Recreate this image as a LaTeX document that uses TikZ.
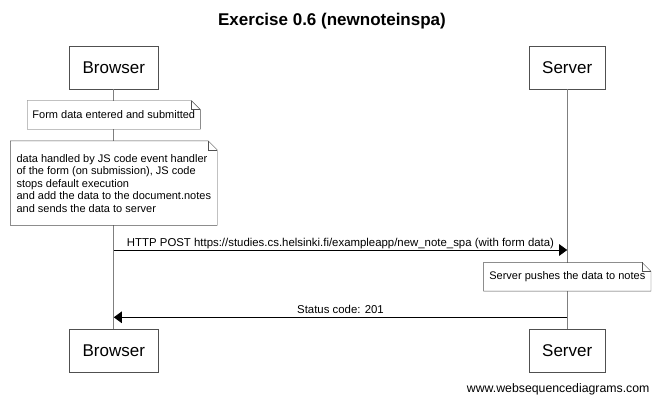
\documentclass[tikz,border=0pt]{standalone}
\usepackage{fontspec}
\setmainfont{Liberation Sans}
\usetikzlibrary{positioning,arrows.meta}
\definecolor{lifegray}{HTML}{7F7F7F}
\definecolor{boxgray}{HTML}{505050}

\begin{document}
\begin{tikzpicture}[x=1pt, y=-1pt, node distance=11pt,
    actor/.style={draw=boxgray, fill=white, minimum height=42.7pt, inner xsep=13.4pt, font=\fontsize{17}{20}\selectfont},
    notebox/.style={fill=white, inner xsep=5pt, inner ysep=3pt, minimum height=28.3pt, align=left, font=\fontsize{11}{12.5}\selectfont},
    noteline/.style={draw=boxgray, line join=miter},
    lifeline/.style={lifegray, line width=1.2pt},
    msg/.style={-{Triangle[length=8pt, width=11.5pt]}, black, line width=0.9pt},
    msglabel/.style={anchor=base, yshift=4pt, inner sep=0pt, font=\fontsize{11.4}{13}\selectfont}]
  \useasboundingbox (0,0) rectangle (661,401);
  \node[anchor=base, font=\bfseries\fontsize{17}{20}\selectfont] (title) at (332,26) {Exercise 0.6 (newnoteinspa)};
  % participants
  \node[actor] (browser) at (113.8,67.7) {Browser};
  \node[actor] (server) at (567.2,67.7) {Server};
  \node[actor, below=239.6pt of browser] (browserend) {Browser};
  \node[actor, below=239.6pt of server] (serverend) {Server};
  \draw[lifeline] (browser) -- (browserend);
  \draw[lifeline] (server) -- (serverend);
  % notes
  \node[notebox, below=11.3pt of browser] (formnote) {Form data entered and submitted};
  \node[notebox, below=11.7pt of formnote, minimum height=84pt, inner xsep=6pt] (jsnote)
    {data handled by JS code event handler\\of the form (on submission), JS code\\stops default execution\\and add the data to the document.notes\\and sends the data to server};
  \node[notebox, inner xsep=5.5pt] (pushnote) at (567.3,276.7) {Server pushes the data to notes};
  \foreach \n in {formnote,jsnote,pushnote} {
    \draw[noteline] (\n.north west) -- ([xshift=-9pt]\n.north east) -- ([yshift=-9pt]\n.north east)
      -- (\n.south east) -- (\n.south west) -- cycle;
    \draw[noteline] ([xshift=-9pt]\n.north east) |- ([yshift=-9pt]\n.north east);
  }
  % messages
  \path (0,250) coordinate (posty) (0,317.3) coordinate (statusy);
  \draw[msg] (browser |- posty) -- node[msglabel] {HTTP POST https://studies.cs.helsinki.fi/exampleapp/new\_note\_spa (with form data)} (server |- posty);
  \draw[msg] (server |- statusy) -- node[msglabel] {Status code: 201} (browser |- statusy);
  \node[anchor=base east, font=\fontsize{12.3}{14}\selectfont] (credit) at (653,392) {www.websequencediagrams.com};
\end{tikzpicture}
\end{document}
